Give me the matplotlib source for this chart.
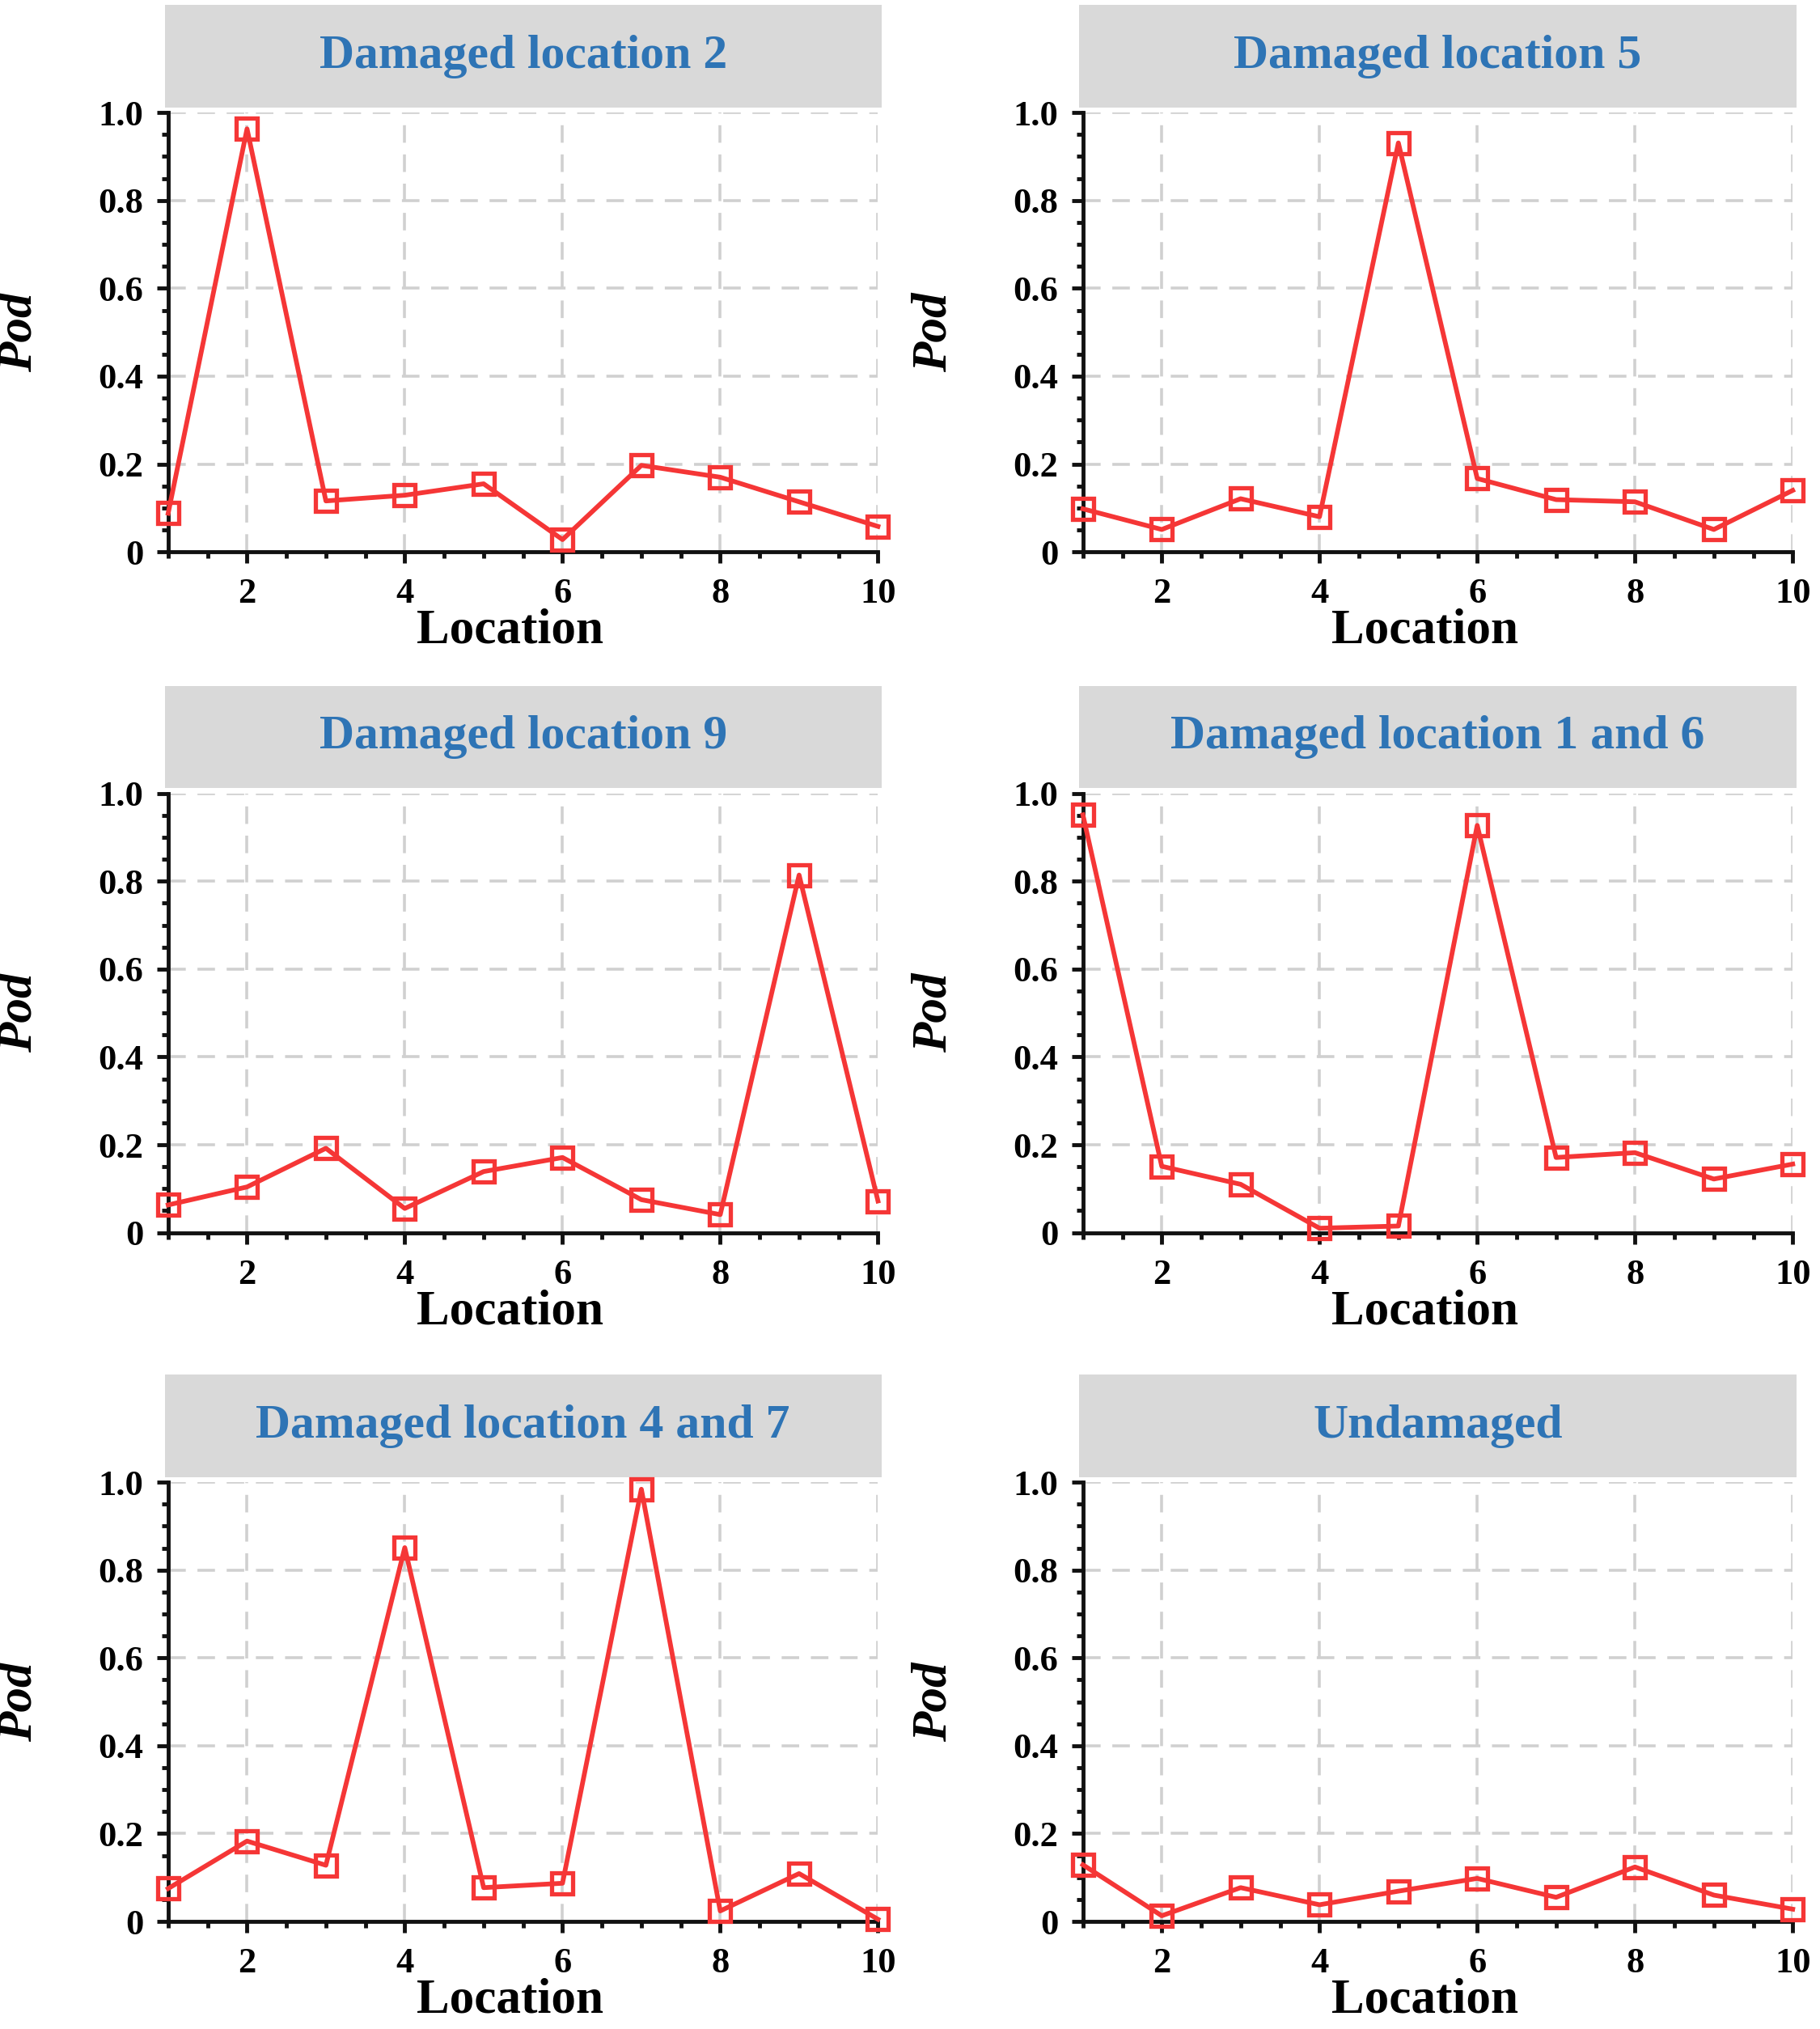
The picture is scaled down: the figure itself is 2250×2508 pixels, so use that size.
import numpy as np
import matplotlib.pyplot as plt
from matplotlib.patches import Rectangle
from matplotlib.ticker import MultipleLocator, FixedLocator

plt.rcParams['font.family'] = ['Liberation Serif', 'DejaVu Serif']

# позиции
locations = [1, 2, 3, 4, 5, 6, 7, 8, 9, 10]

# заголовки панелей
titles = ['Damaged location 2', 'Damaged location 5', 'Damaged location 9',
          'Damaged location 1 and 6', 'Damaged location 4 and 7', 'Undamaged']

# значения Pod
pod_loc2 = [0.088, 0.963, 0.116, 0.129, 0.155, 0.028, 0.197, 0.170, 0.114, 0.058]
pod_loc5 = [0.098, 0.051, 0.121, 0.080, 0.931, 0.167, 0.119, 0.114, 0.051, 0.140]
pod_loc9 = [0.063, 0.104, 0.192, 0.055, 0.139, 0.171, 0.075, 0.041, 0.814, 0.072]
pod_loc1_6 = [0.951, 0.151, 0.110, 0.010, 0.015, 0.927, 0.171, 0.182, 0.122, 0.156]
pod_loc4_7 = [0.075, 0.183, 0.128, 0.851, 0.077, 0.087, 0.984, 0.024, 0.109, 0.005]
pod_undamaged = [0.129, 0.013, 0.077, 0.038, 0.069, 0.098, 0.055, 0.124, 0.060, 0.028]

series = [pod_loc2, pod_loc5, pod_loc9, pod_loc1_6, pod_loc4_7, pod_undamaged]

yticks = [0, 0.2, 0.4, 0.6, 0.8, 1.0]
ytick_labels = ['0', '0.2', '0.4', '0.6', '0.8', '1.0']
xticks = [2, 4, 6, 8, 10]

lineColor = '#f53636'
titleColor = '#2e74b5'
boxColor = '#d9d9d9'
gridColor = '#d0d0d0'

fig = plt.figure(figsize=(22.5, 25.08), dpi=100)

lefts = [0.0924, 0.595]
bottoms = [0.728, 0.3925, 0.053]
w, h = 0.39, 0.2165

for i, (title, values) in enumerate(zip(titles, series)):
    row, col = divmod(i, 2)
    ax = fig.add_axes([lefts[col], bottoms[row], w, h])

    ax.plot(locations, values, color=lineColor, lw=4.2, marker='s', markersize=19,
            markerfacecolor='none', markeredgecolor=lineColor, markeredgewidth=3.8,
            clip_on=False, zorder=5)

    ax.set_xlim(1, 10)
    ax.set_ylim(0, 1.0)
    ax.xaxis.set_major_locator(FixedLocator(xticks))
    ax.xaxis.set_minor_locator(MultipleLocator(0.5))
    ax.yaxis.set_major_locator(FixedLocator(yticks))
    ax.yaxis.set_minor_locator(MultipleLocator(0.05))
    ax.set_yticklabels(ytick_labels)

    ax.grid(True, which='major', color=gridColor, ls=(0, (6, 4)), lw=2.6)
    ax.set_axisbelow(True)

    for s in ['top', 'right']:
        ax.spines[s].set_visible(False)
    for s in ['left', 'bottom']:
        ax.spines[s].set_linewidth(3.5)
        ax.spines[s].set_color('#111111')

    ax.tick_params(axis='both', which='major', direction='out', length=10, width=3.5,
                   labelsize=32, color='#111111')
    ax.tick_params(axis='both', which='minor', direction='out', length=6, width=3.5,
                   color='#111111')
    ax.tick_params(axis='x', which='major', pad=13)
    ax.tick_params(axis='y', which='major', pad=12)
    for lab in ax.get_xticklabels() + ax.get_yticklabels():
        lab.set_fontweight('bold')

    ax.set_xlabel('Location', fontsize=44, fontweight='bold')
    ax.xaxis.set_label_coords(0.482, -0.128)
    ax.set_ylabel('Pod', fontsize=44, fontweight='bold', style='italic')
    ax.yaxis.set_label_coords(-0.178, 0.5)

    # серая плашка с заголовком
    ax.add_patch(Rectangle((-0.005, 1.012), 1.01, 0.233, transform=ax.transAxes,
                           facecolor=boxColor, edgecolor='none', clip_on=False))
    ax.text(0.5, 1.128, title, transform=ax.transAxes, ha='center', va='center',
            fontsize=43, fontweight='bold', color=titleColor)

fig.savefig('out.png', dpi=100)
